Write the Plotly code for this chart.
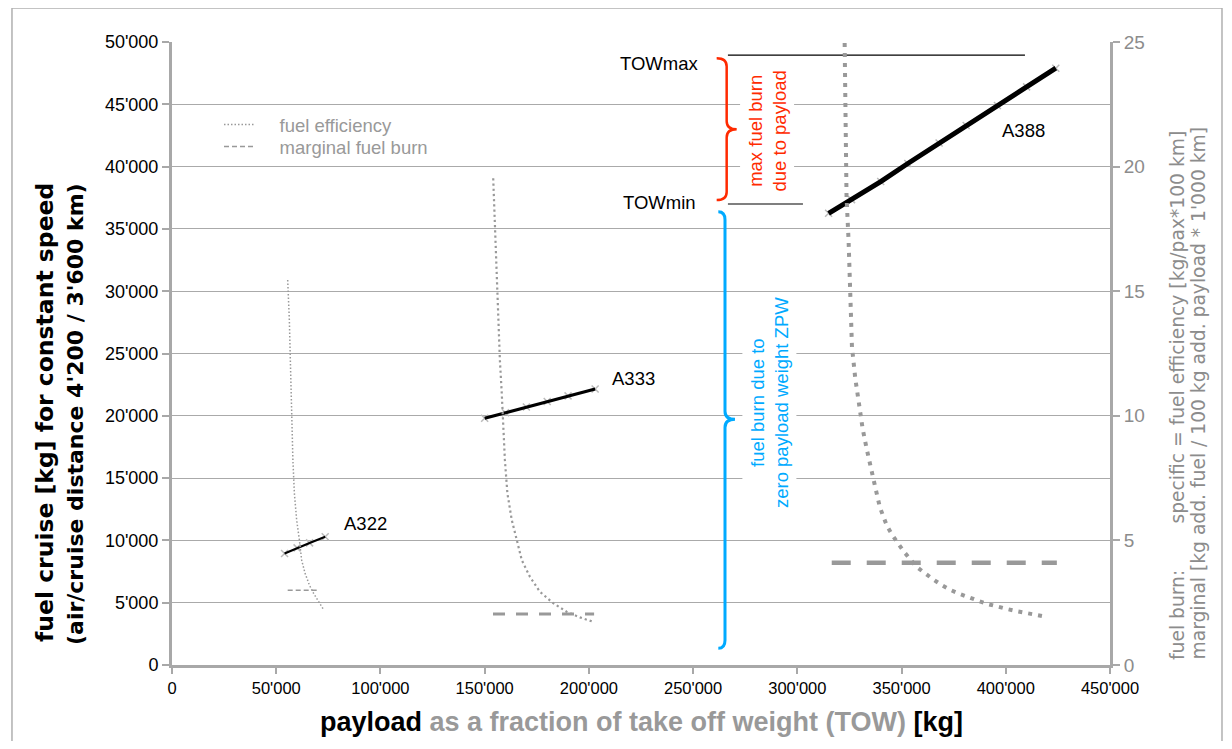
import plotly.graph_objects as go

# ---------------- data ----------------
x_ticks = [0, 50000, 100000, 150000, 200000, 250000, 300000, 350000, 400000, 450000]

# fuel cruise (left axis) vs payload
a322_x = [54000, 60000, 66000, 73500]
a322_y = [8950, 9400, 9800, 10300]
a333_x = [150000, 160000, 170000, 180000, 190000, 203000]
a333_y = [19800, 20250, 20700, 21150, 21600, 22150]
a388_x = [315000, 326000, 340000, 353000, 368000, 381000, 396000, 410000, 424000]
a388_y = [36250, 37350, 38800, 40250, 41900, 43300, 44900, 46400, 47900]

# fuel efficiency (right axis)
a322_eff_x = [55500, 56300, 56900, 57400, 58000, 58700, 59800, 61100, 62200, 63800, 65900, 67800, 70200, 72600]
a322_eff_y = [15.45, 13.84, 11.84, 9.96, 8.23, 6.90, 5.82, 5.02, 4.21, 3.69, 3.21, 2.89, 2.54, 2.24]
a333_eff_x = [154100, 154900, 155800, 156500, 157300, 158200, 158900, 159700, 160900, 163000, 165400,
              167800, 171700, 176500, 182900, 189300, 195700, 201800]
a333_eff_y = [19.53, 17.59, 15.58, 13.84, 12.24, 10.90, 9.56, 8.23, 6.89, 5.82, 5.02, 4.21, 3.54, 2.94,
              2.48, 2.14, 1.91, 1.74]
a388_eff_x = [322700, 323600, 324600, 325200, 326200, 327800, 329700, 331300, 333200, 335200, 337400,
              339600, 343000, 345500, 348100, 351100, 357200, 361100, 365100, 369200, 373500, 378000,
              382300, 387000, 391600, 396200, 400900, 405700, 410500, 415300, 419900]
a388_eff_y = [24.96, 18.79, 17.0, 15.18, 12.77, 11.50, 10.30, 9.50, 8.70, 7.89, 7.13, 6.33, 5.58, 5.22,
              4.88, 4.55, 3.94, 3.68, 3.44, 3.21, 3.01, 2.85, 2.70, 2.57, 2.44, 2.33, 2.24, 2.15, 2.07,
              2.01, 1.93]

# marginal fuel burn (right axis)
a322_marg_x = [55500, 69500]
a322_marg_y = [3.0, 3.0]
a333_marg_x = [154000, 202500]
a333_marg_y = [2.05, 2.05]
a388_marg_x = [316500, 424500]
a388_marg_y = [4.1, 4.1]

# TOW reference lines
tow_max_x = [266700, 409200]
tow_max_y = [48950, 48950]
tow_min_x = [266700, 302700]
tow_min_y = [37000, 37000]

GRAY = "#999999"
AXIS = "#a8a8a8"
RG = "#8c8c8c"
FONT = "Liberation Sans, Arial, Helvetica, sans-serif"
WIDE = "DejaVu Sans, Liberation Sans, sans-serif"
NB = "\u00a0" * 4

fig = go.Figure()

# efficiency dotted curves
fig.add_trace(go.Scatter(x=a322_eff_x, y=a322_eff_y, yaxis="y2", mode="lines", name=NB + "fuel efficiency",
                         line=dict(color=GRAY, width=1.5, dash="1.5px,2px"), showlegend=True, legend="legend"))
fig.add_trace(go.Scatter(x=a333_eff_x, y=a333_eff_y, yaxis="y2", mode="lines",
                         line=dict(color=GRAY, width=2.2, dash="2.2px,3px"), showlegend=False))
fig.add_trace(go.Scatter(x=a388_eff_x, y=a388_eff_y, yaxis="y2", mode="lines",
                         line=dict(color=GRAY, width=4, dash="4px,6px"), showlegend=False))

# marginal dashed lines
fig.add_trace(go.Scatter(x=a322_marg_x, y=a322_marg_y, yaxis="y2", mode="lines", name=NB + "marginal fuel burn",
                         line=dict(color=GRAY, width=1.5, dash="5px,3px"), showlegend=True, legend="legend2"))
fig.add_trace(go.Scatter(x=a333_marg_x, y=a333_marg_y, yaxis="y2", mode="lines",
                         line=dict(color=GRAY, width=3, dash="12px,11px"), showlegend=False))
fig.add_trace(go.Scatter(x=a388_marg_x, y=a388_marg_y, yaxis="y2", mode="lines",
                         line=dict(color=GRAY, width=4.5, dash="19px,16px"), showlegend=False))

# fuel cruise lines with light gray markers beneath
for xs, ys, w in [(a322_x, a322_y, 2.2), (a333_x, a333_y, 3.2), (a388_x, a388_y, 5)]:
    fig.add_trace(go.Scatter(x=xs, y=ys, mode="markers", showlegend=False,
                             marker=dict(symbol="x-thin", size=7, color="#bbbbbb",
                                         line=dict(color="#bbbbbb", width=1.5))))
    fig.add_trace(go.Scatter(x=xs, y=ys, mode="lines", showlegend=False,
                             line=dict(color="black", width=w)))

# TOW lines
fig.add_trace(go.Scatter(x=tow_max_x, y=tow_max_y, mode="lines", showlegend=False,
                         line=dict(color="black", width=1.2)))
fig.add_trace(go.Scatter(x=tow_min_x, y=tow_min_y, mode="lines", showlegend=False,
                         line=dict(color="black", width=1.2)))


def brace(x0, x1, x2, ytop, ymid, ybot, r):
    return (f"M {x0},{ytop} Q {x1},{ytop} {x1},{ytop - r} L {x1},{ymid + r} "
            f"Q {x1},{ymid} {x2},{ymid} Q {x1},{ymid} {x1},{ymid - r} "
            f"L {x1},{ybot + r} Q {x1},{ybot} {x0},{ybot}")


shapes = [
    dict(type="path", xref="x", yref="y", path=brace(261300, 266100, 270900, 48690, 42990, 37320, 650),
         line=dict(color="#ff2a00", width=2.5)),
    dict(type="path", xref="x", yref="y", path=brace(262100, 265300, 270100, 36380, 19720, 1340, 650),
         line=dict(color="#00aaff", width=3)),
    dict(type="rect", xref="paper", yref="paper", x0=-0.1706, x1=1.1194, y0=-0.16, y1=1.0546,
         line=dict(color="#b0b0b0", width=1.5), layer="below"),
]


def px(xp):
    return (xp - 172) / 938


def py(yp):
    return (665 - yp) / 623


annotations = [
    dict(x=234100, y=48300, xref="x", yref="y", text="TOWmax", showarrow=False,
         font=dict(size=18.5, color="black")),
    dict(x=234100, y=37100, xref="x", yref="y", text="TOWmin", showarrow=False,
         font=dict(size=18.5, color="black")),
    dict(x=408300, y=42900, xref="x", yref="y", text="A388", showarrow=False,
         font=dict(size=18.5, color="black")),
    dict(x=221600, y=23000, xref="x", yref="y", text="A333", showarrow=False,
         font=dict(size=18.5, color="black")),
    dict(x=93000, y=11370, xref="x", yref="y", text="A322", showarrow=False,
         font=dict(size=18.5, color="black"), bgcolor="white"),
    dict(x=285700, y=42860, xref="x", yref="y", text="max fuel burn<br>due to payload", showarrow=False,
         textangle=-90, font=dict(size=18.5, color="#ff2a00"), bgcolor="white", borderpad=4),
    dict(x=286400, y=21100, xref="x", yref="y", text="fuel burn due to<br>zero payload weight ZPW",
         showarrow=False, textangle=-90, font=dict(size=18.5, color="#00aaff"), bgcolor="white", borderpad=4),
    # left axis title (two lines)
    dict(x=px(45), y=py(413), xref="paper", yref="paper", xanchor="center", yanchor="middle",
         textangle=-90, showarrow=False,
         text="<b>fuel cruise [kg] for constant speed</b>", font=dict(family=WIDE, size=23.5, color="black")),
    dict(x=px(75), y=py(414), xref="paper", yref="paper", xanchor="center", yanchor="middle",
         textangle=-90, showarrow=False,
         text="<b>(air/cruise distance 4'200 / 3'600 km)</b>", font=dict(family=WIDE, size=22, color="black")),
    # bottom axis title
    dict(x=px(641), y=py(722), xref="paper", yref="paper", xanchor="center", yanchor="middle", showarrow=False,
         text="<b>payload <span style='color:#999999'>as a fraction of take off weight (TOW)</span> [kg]</b>",
         font=dict(size=27, color="black")),
    # right axis title
    dict(x=px(1177), y=py(662), xref="paper", yref="paper", xanchor="center", yanchor="bottom",
         textangle=-90, showarrow=False, text="fuel burn:", font=dict(family=WIDE, size=18.7, color=RG)),
    dict(x=px(1177), y=py(129), xref="paper", yref="paper", xanchor="center", yanchor="top",
         textangle=-90, showarrow=False, text="specific = fuel efficiency [kg/pax*100 km]",
         font=dict(family=WIDE, size=18.7, color=RG)),
    dict(x=px(1198), y=py(662), xref="paper", yref="paper", xanchor="center", yanchor="bottom",
         textangle=-90, showarrow=False, text="marginal [kg add. fuel / 100 kg add. payload * 1'000 km]",
         font=dict(family=WIDE, size=18.7, color=RG)),
]

legend_common = dict(xanchor="left", yanchor="middle", bgcolor="rgba(0,0,0,0)",
                     font=dict(size=18.5, color=GRAY), itemwidth=30)

# the page body adds an 8px margin, so the figure is shifted by 8px
fig.update_layout(
    width=1216, height=733,
    margin=dict(l=164, r=114, t=34, b=76),
    paper_bgcolor="white", plot_bgcolor="white",
    font=dict(family=FONT, size=16, color="black"),
    separators=".'",
    showlegend=True,
    legend=dict(x=px(219), y=py(125), **legend_common),
    legend2=dict(x=px(219), y=py(147), **legend_common),
    xaxis=dict(range=[0, 450000], tickvals=x_ticks, tickformat=",d", showgrid=False, zeroline=False,
               showline=True, linecolor=AXIS, linewidth=3, ticks="outside", ticklen=6, tickwidth=2,
               tickcolor=AXIS, tickfont=dict(size=16.5, color="black")),
    yaxis=dict(range=[0, 50000], dtick=5000, tickformat=",d", showgrid=True, gridcolor="#aaaaaa",
               gridwidth=1.3, zeroline=False, showline=True, linecolor=AXIS, linewidth=3,
               ticks="outside", ticklen=7, tickwidth=2, tickcolor=AXIS, tickfont=dict(size=18, color="black")),
    yaxis2=dict(range=[0, 25], dtick=5, overlaying="y", side="right", showgrid=False, zeroline=False,
                showline=True, linecolor=AXIS, linewidth=3, ticks="outside", ticklen=7, tickwidth=2,
                tickcolor=AXIS, tickfont=dict(size=19, color=RG)),
    shapes=shapes,
    annotations=annotations,
)

fig.write_html("out.html")
